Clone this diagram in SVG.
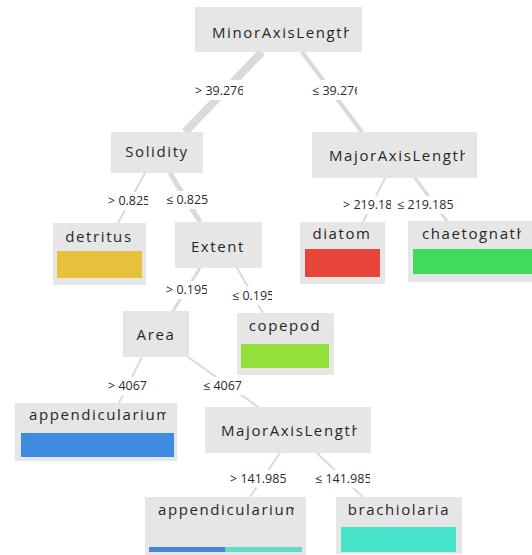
<svg xmlns="http://www.w3.org/2000/svg" width="532" height="555" viewBox="0 0 532 555">
<style>
.box{fill:#e6e6e6}
.nt{font-family:"Open Sans","DejaVu Sans",sans-serif;font-size:15px;letter-spacing:1.6px;fill:#262626}
.lt{font-family:"Open Sans","DejaVu Sans",sans-serif;font-size:12.5px;fill:#2b2b2b}
.lbg{fill:#fff}
.e{stroke:#dadada;stroke-linecap:butt;fill:none}
</style>
<defs>
<clipPath id="c-root"><rect x="195" y="7" width="154" height="45"/></clipPath>
<clipPath id="c-mal1"><rect x="312" y="132" width="153" height="46"/></clipPath>
<clipPath id="c-chae"><rect x="408" y="221" width="113" height="30"/></clipPath>
<clipPath id="c-app1"><rect x="15" y="403" width="151" height="30"/></clipPath>
<clipPath id="c-mal2"><rect x="205" y="407" width="152" height="46"/></clipPath>
<clipPath id="c-app2"><rect x="145" y="497" width="149" height="30"/></clipPath>
<clipPath id="c-l1"><rect x="190" y="80" width="53" height="20"/></clipPath>
<clipPath id="c-l2"><rect x="308" y="80" width="49" height="20"/></clipPath>
<clipPath id="c-l3"><rect x="104" y="192" width="44" height="18"/></clipPath>
<clipPath id="c-l5"><rect x="339" y="196" width="52" height="18"/></clipPath>
<clipPath id="c-l6"><rect x="394" y="196" width="60" height="18"/></clipPath>
<clipPath id="c-l7"><rect x="162" y="281" width="45" height="18"/></clipPath>
<clipPath id="c-l8"><rect x="228" y="287" width="44" height="18"/></clipPath>
<clipPath id="c-l11"><rect x="226" y="470" width="60" height="18"/></clipPath>
<clipPath id="c-l12"><rect x="311" y="470" width="59" height="18"/></clipPath>
</defs>
<g id="connectors">
<line class="e" x1="262" y1="52" x2="185" y2="132" stroke-width="8"/>
<line class="e" x1="302" y1="52" x2="362" y2="132" stroke-width="4"/>
<line class="e" x1="145" y1="173" x2="118" y2="223" stroke-width="2"/>
<line class="e" x1="170" y1="173" x2="200" y2="222" stroke-width="5"/>
<line class="e" x1="385" y1="178" x2="363" y2="222" stroke-width="2"/>
<line class="e" x1="415" y1="178" x2="447" y2="221" stroke-width="3"/>
<line class="e" x1="200" y1="268" x2="173" y2="311" stroke-width="3"/>
<line class="e" x1="237" y1="268" x2="263" y2="313" stroke-width="2"/>
<line class="e" x1="142" y1="357" x2="119" y2="403" stroke-width="2"/>
<line class="e" x1="188" y1="357" x2="258" y2="407" stroke-width="2"/>
<line class="e" x1="280" y1="453" x2="250" y2="497" stroke-width="2"/>
<line class="e" x1="317" y1="453" x2="363" y2="497" stroke-width="2"/>
</g>
<g id="edge-labels">
<g clip-path="url(#c-l1)"><rect class="lbg" x="190" y="80" width="53" height="20"/><text class="lt" x="195" y="95">&gt; 39.276</text></g>
<g clip-path="url(#c-l2)"><rect class="lbg" x="308" y="80" width="49" height="20"/><text class="lt" x="312" y="95">≤ 39.276</text></g>
<g clip-path="url(#c-l3)"><rect class="lbg" x="104" y="192" width="44" height="18"/><text class="lt" x="108" y="205">&gt; 0.825</text></g>
<rect class="lbg" x="162" y="191" width="48" height="18"/><text class="lt" x="166" y="204">≤ 0.825</text>
<g clip-path="url(#c-l5)"><rect class="lbg" x="339" y="196" width="52" height="18"/><text class="lt" x="343" y="209">&gt; 219.185</text></g>
<g clip-path="url(#c-l6)"><rect class="lbg" x="394" y="196" width="60" height="18"/><text class="lt" x="397" y="209">≤ 219.185</text></g>
<g clip-path="url(#c-l7)"><rect class="lbg" x="162" y="281" width="45" height="18"/><text class="lt" x="166" y="294">&gt; 0.195</text></g>
<g clip-path="url(#c-l8)"><rect class="lbg" x="228" y="287" width="44" height="18"/><text class="lt" x="232" y="300">≤ 0.195</text></g>
<rect class="lbg" x="104" y="377" width="48" height="18"/><text class="lt" x="108" y="390">&gt; 4067</text>
<rect class="lbg" x="199" y="377" width="48" height="18"/><text class="lt" x="203" y="390">≤ 4067</text>
<g clip-path="url(#c-l11)"><rect class="lbg" x="226" y="470" width="60" height="18"/><text class="lt" x="230" y="483">&gt; 141.985</text></g>
<g clip-path="url(#c-l12)"><rect class="lbg" x="311" y="470" width="59" height="18"/><text class="lt" x="315" y="483">≤ 141.985</text></g>
</g>
<g id="node-root"><rect class="box" x="195" y="7" width="167" height="45"/><text class="nt" x="212" y="38" clip-path="url(#c-root)">MinorAxisLength</text></g>
<g id="node-solidity"><rect class="box" x="111" y="132" width="92" height="41"/><text class="nt" x="157" y="157" text-anchor="middle">Solidity</text></g>
<g id="node-major1"><rect class="box" x="312" y="132" width="165" height="46"/><text class="nt" x="329" y="161" clip-path="url(#c-mal1)">MajorAxisLength</text></g>
<g id="node-detritus"><rect class="box" x="53" y="223" width="93" height="62"/><text class="nt" x="99" y="242" text-anchor="middle">detritus</text><rect x="57" y="251" width="85" height="27" fill="#e6c13b"/></g>
<g id="node-extent"><rect class="box" x="175" y="222" width="87" height="46"/><text class="nt" x="218" y="252" text-anchor="middle">Extent</text></g>
<g id="node-diatom"><rect class="box" x="300" y="222" width="85" height="62"/><text class="nt" x="342" y="239" text-anchor="middle">diatom</text><rect x="305" y="249" width="75" height="28" fill="#e8453a"/></g>
<g id="node-chaetognath"><rect class="box" x="408" y="221" width="130" height="61"/><text class="nt" x="422" y="239" clip-path="url(#c-chae)">chaetognath</text><rect x="413" y="249" width="125" height="25" fill="#3fdc5c"/></g>
<g id="node-area"><rect class="box" x="123" y="311" width="66" height="46"/><text class="nt" x="156" y="340" text-anchor="middle">Area</text></g>
<g id="node-copepod"><rect class="box" x="237" y="313" width="97" height="62"/><text class="nt" x="285" y="331" text-anchor="middle">copepod</text><rect x="241" y="344" width="88" height="24" fill="#93e03d"/></g>
<g id="node-append1"><rect class="box" x="15" y="403" width="162" height="58"/><text class="nt" x="29" y="420" clip-path="url(#c-app1)">appendicularium</text><rect x="21" y="433" width="153" height="24" fill="#3f8be0"/></g>
<g id="node-major2"><rect class="box" x="205" y="407" width="166" height="46"/><text class="nt" x="221" y="436" clip-path="url(#c-mal2)">MajorAxisLength</text></g>
<g id="node-append2"><rect class="box" x="145" y="497" width="161" height="60"/><text class="nt" x="158" y="515" clip-path="url(#c-app2)">appendicularium</text><rect x="149" y="547" width="76" height="5" fill="#4a86d0"/><rect x="225" y="547" width="77" height="5" fill="#63dcc5"/></g>
<g id="node-brachiolaria"><rect class="box" x="336" y="497" width="126" height="57"/><text class="nt" x="399" y="515" text-anchor="middle">brachiolaria</text><rect x="341" y="527" width="115" height="25" fill="#45e3c7"/></g>
</svg>
